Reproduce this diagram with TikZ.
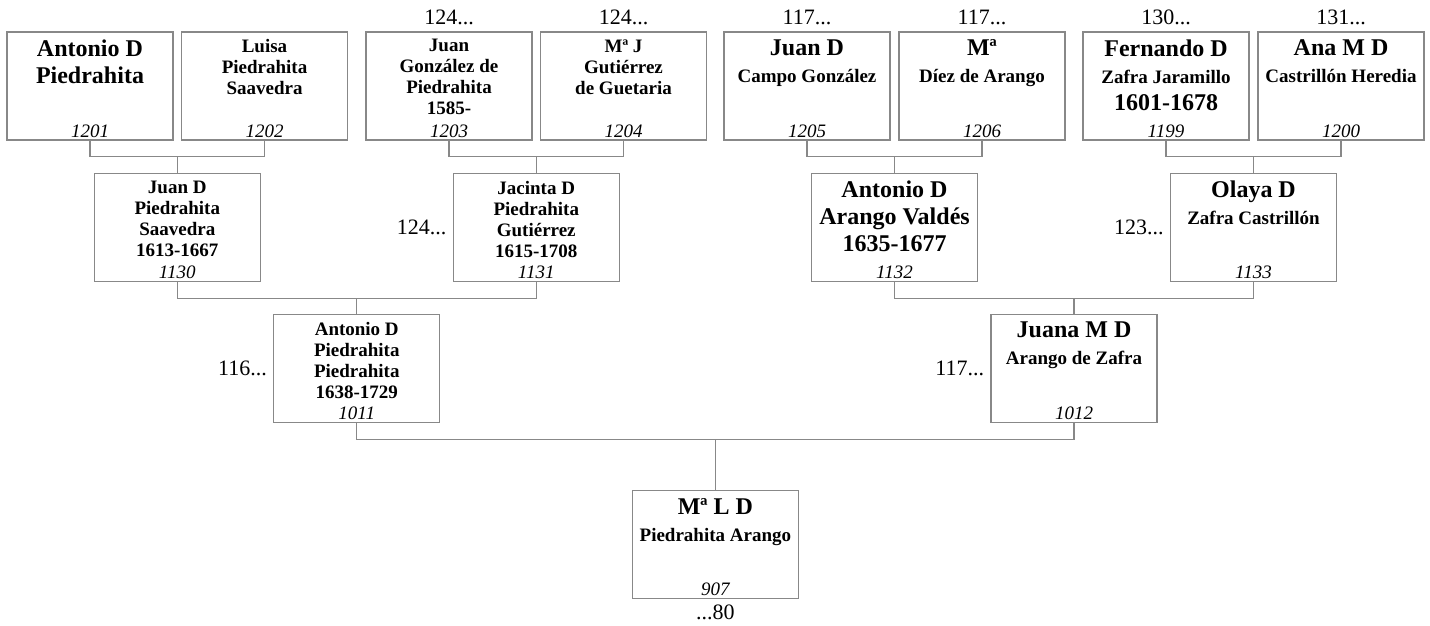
\documentclass[tikz,border=0pt]{standalone}
\usepackage{fontspec}
\setmainfont{Liberation Serif}
\usetikzlibrary{positioning, calc}
\definecolor{linegray}{HTML}{888888}
\newcommand{\sm}{\fontsize{19}{21}\selectfont}

\begin{document}
\begin{tikzpicture}[x=1pt, y=-1pt,
  person/.style={draw=linegray, line width=1.3pt, minimum width=166pt,
    minimum height=108pt, inner sep=0pt},
  pname/.style={inner sep=0pt, align=center,
    font=\fontsize{19}{21}\selectfont\bfseries},
  pbig/.style={pname, font=\fontsize{24}{27}\selectfont\bfseries},
  pnum/.style={inner sep=0pt, font=\fontsize{19}{21}\selectfont\itshape},
  pref/.style={inner sep=0pt, font=\fontsize{22}{24}\selectfont},
  link/.style={linegray, line width=1.3pt}]
  \useasboundingbox (0,0) rectangle (1430,626);

  % great-grandparents
  \node[person] (p1201) at (90,86) {};
  \node[person] (p1202) at (264.5,86) {};
  \node[person] (p1203) at (449,86) {};
  \node[person] (p1204) at (623.5,86) {};
  \node[person] (p1205) at (807,86) {};
  \node[person] (p1206) at (982,86) {};
  \node[person] (p1199) at (1166,86) {};
  \node[person] (p1200) at (1341,86) {};

  % grandparents, centred under each couple
  \node[person] (p1130) at ($(p1201)!.5!(p1202)+(0,141.5)$) {};
  \node[person] (p1131) at ($(p1203)!.5!(p1204)+(0,141.5)$) {};
  \node[person] (p1132) at ($(p1205)!.5!(p1206)+(0,141.5)$) {};
  \node[person] (p1133) at ($(p1199)!.5!(p1200)+(0,141.5)$) {};

  % parents and child
  \node[person] (p1011) at ($(p1130)!.5!(p1131)+(0,141)$) {};
  \node[person] (p1012) at ($(p1132)!.5!(p1133)+(0,141)$) {};
  \node[person] (p907) at ($(p1011)!.5!(p1012)+(0,176)$) {};

  % names
  \node[pbig, below=8pt of p1201.north] (t1201) {Antonio D\\Piedrahita};
  \node[pname, below=8pt of p1202.north] (t1202) {Luisa\\Piedrahita\\Saavedra};
  \node[pname, below=8pt of p1203.north] (t1203)
    {Juan\\González de\\Piedrahita\\1585-};
  \node[pname, below=8pt of p1204.north] (t1204) {Mª J\\Gutiérrez\\de Guetaria};
  \node[pbig, below=8pt of p1205.north] (t1205) {Juan D\\\sm Campo González};
  \node[pbig, below=8pt of p1206.north] (t1206) {Mª\\\sm Díez de Arango};
  \node[pbig, below=8pt of p1199.north] (t1199)
    {Fernando D\\\sm Zafra Jaramillo\\1601-1678};
  \node[pbig, below=8pt of p1200.north] (t1200) {Ana M D\\\sm Castrillón Heredia};
  \node[pname, below=8pt of p1130.north] (t1130)
    {Juan D\\Piedrahita\\Saavedra\\1613-1667};
  \node[pname, below=8pt of p1131.north] (t1131)
    {Jacinta D\\Piedrahita\\Gutiérrez\\1615-1708};
  \node[pbig, below=8pt of p1132.north] (t1132)
    {Antonio D\\Arango Valdés\\1635-1677};
  \node[pbig, below=8pt of p1133.north] (t1133) {Olaya D\\\sm Zafra Castrillón};
  \node[pname, below=8pt of p1011.north] (t1011)
    {Antonio D\\Piedrahita\\Piedrahita\\1638-1729};
  \node[pbig, below=8pt of p1012.north] (t1012) {Juana M D\\\sm Arango de Zafra};
  \node[pbig, below=8pt of p907.north] (t907) {Mª L D\\\sm Piedrahita Arango};

  % numbers
  \node[pnum, above=3pt of p1201.south] (n1201) {1201};
  \node[pnum, above=3pt of p1202.south] (n1202) {1202};
  \node[pnum, above=3pt of p1203.south] (n1203) {1203};
  \node[pnum, above=3pt of p1204.south] (n1204) {1204};
  \node[pnum, above=3pt of p1205.south] (n1205) {1205};
  \node[pnum, above=3pt of p1206.south] (n1206) {1206};
  \node[pnum, above=3pt of p1199.south] (n1199) {1199};
  \node[pnum, above=3pt of p1200.south] (n1200) {1200};
  \node[pnum, above=3pt of p1130.south] (n1130) {1130};
  \node[pnum, above=3pt of p1131.south] (n1131) {1131};
  \node[pnum, above=3pt of p1132.south] (n1132) {1132};
  \node[pnum, above=3pt of p1133.south] (n1133) {1133};
  \node[pnum, above=3pt of p1011.south] (n1011) {1011};
  \node[pnum, above=3pt of p1012.south] (n1012) {1012};
  \node[pnum, above=3pt of p907.south] (n907) {907};

  % cross references
  \node[pref, above=6pt of p1203.north] (r1203) {124...};
  \node[pref, above=6pt of p1204.north] (r1204) {124...};
  \node[pref, above=6pt of p1205.north] (r1205) {117...};
  \node[pref, above=6pt of p1206.north] (r1206) {117...};
  \node[pref, above=6pt of p1199.north] (r1199) {130...};
  \node[pref, above=6pt of p1200.north] (r1200) {131...};
  \node[pref, left=6pt of p1131.west] (r1131) {124...};
  \node[pref, left=6pt of p1133.west] (r1133) {123...};
  \node[pref, left=6pt of p1011.west] (r1011) {116...};
  \node[pref, left=6pt of p1012.west] (r1012) {117...};
  \node[pref, below=6pt of p907.south] (r907) {...80};

  % family lines
  \draw[link] (p1201.south) -- ++(0,16) -| (p1202.south);
  \draw[link] (p1130.north) -- ++(0,-17);
  \draw[link] (p1203.south) -- ++(0,16) -| (p1204.south);
  \draw[link] (p1131.north) -- ++(0,-17);
  \draw[link] (p1205.south) -- ++(0,16) -| (p1206.south);
  \draw[link] (p1132.north) -- ++(0,-17);
  \draw[link] (p1199.south) -- ++(0,16) -| (p1200.south);
  \draw[link] (p1133.north) -- ++(0,-17);
  \draw[link] (p1130.south) -- ++(0,16) -| (p1131.south);
  \draw[link] (p1011.north) -- ++(0,-16);
  \draw[link] (p1132.south) -- ++(0,16) -| (p1133.south);
  \draw[link] (p1012.north) -- ++(0,-16);
  \draw[link] (p1011.south) -- ++(0,16) -| (p1012.south);
  \draw[link] (p907.north) -- ++(0,-51);
\end{tikzpicture}
\end{document}
